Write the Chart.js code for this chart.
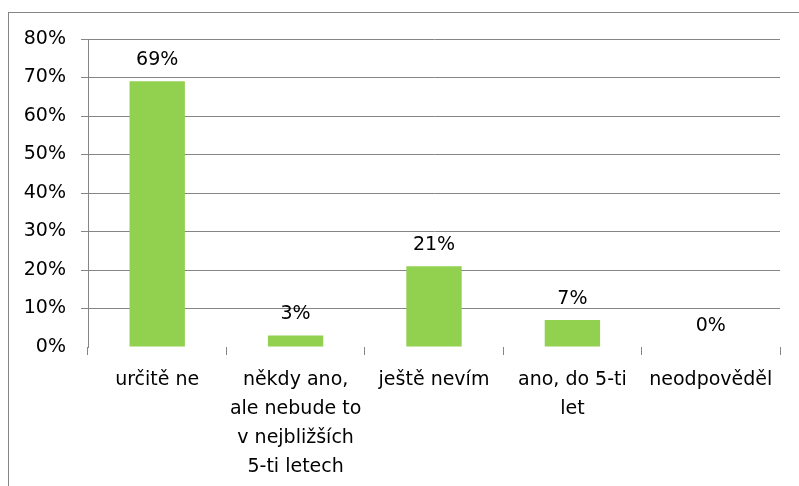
<!DOCTYPE html>
<html>
<head>
<meta charset="utf-8">
<script src="https://cdn.jsdelivr.net/npm/chart.js@4.4.0/dist/chart.umd.min.js"></script>
<style>
  html, body { margin: 0; padding: 0; background: #fff; }
  #wrap { width: 799px; height: 486px; }
</style>
</head>
<body>
<div id="wrap"><canvas id="chart" width="799" height="486"></canvas></div>
<script>
const categories = [
  ['určitě ne'],
  ['někdy ano,', 'ale nebude to', 'v nejbližších', '5-ti letech'],
  ['ještě nevím'],
  ['ano, do 5-ti', 'let'],
  ['neodpověděl']
];
const values = [69, 3, 21, 7, 0];
const yTicks = [0, 10, 20, 30, 40, 50, 60, 70, 80];

const gray = '#858585';
const font = { family: '"DejaVu Sans", sans-serif', size: 19 };

// outer frame of the chart
const framePlugin = {
  id: 'frame',
  beforeDraw(chart) {
    const ctx = chart.ctx;
    ctx.save();
    ctx.strokeStyle = gray;
    ctx.lineWidth = 1;
    ctx.strokeRect(8.5, 12.5, chart.width + 20, chart.height + 20);
    ctx.restore();
  }
};

// value labels over the bars
const valueLabels = {
  id: 'valueLabels',
  afterDatasetsDraw(chart) {
    const ctx = chart.ctx;
    const meta = chart.getDatasetMeta(0);
    ctx.save();
    ctx.font = `${font.size}px ${font.family}`;
    ctx.fillStyle = '#000';
    ctx.textAlign = 'center';
    ctx.textBaseline = 'alphabetic';
    meta.data.forEach((bar, i) => {
      ctx.fillText(values[i] + '%', bar.x, bar.y - 16);
    });
    ctx.restore();
  }
};

new Chart(document.getElementById('chart'), {
  type: 'bar',
  data: {
    labels: categories,
    datasets: [{
      data: values,
      backgroundColor: '#92D050',
      barPercentage: 0.8,
      categoryPercentage: 0.5
    }]
  },
  options: {
    responsive: false,
    animation: false,
    layout: { padding: { top: 39, right: 19, left: 0, bottom: 0 } },
    plugins: {
      legend: { display: false },
      tooltip: { enabled: false }
    },
    scales: {
      x: {
        grid: {
          offset: true,
          drawOnChartArea: false,
          drawTicks: true,
          tickLength: 8,
          color: gray,
          lineWidth: 1
        },
        border: { display: false },
        ticks: {
          color: '#000',
          font: { ...font, lineHeight: 1.52 },
          padding: 11,
          maxRotation: 0,
          autoSkip: false
        },
        afterFit: (scale) => { scale.height = 139; }
      },
      y: {
        min: 0,
        max: 80,
        afterBuildTicks: (scale) => { scale.ticks = yTicks.map(v => ({ value: v })); },
        grid: {
          color: (c) => (c.tick && c.tick.value === 0 ? 'rgba(0,0,0,0)' : gray),
          lineWidth: 1,
          tickLength: 7
        },
        border: { display: true, color: gray, width: 1 },
        ticks: {
          color: '#000',
          font: font,
          padding: 15,
          callback: (v) => v + '%'
        },
        afterFit: (scale) => { scale.width = 88; }
      }
    }
  },
  plugins: [framePlugin, valueLabels]
});
</script>
</body>
</html>
